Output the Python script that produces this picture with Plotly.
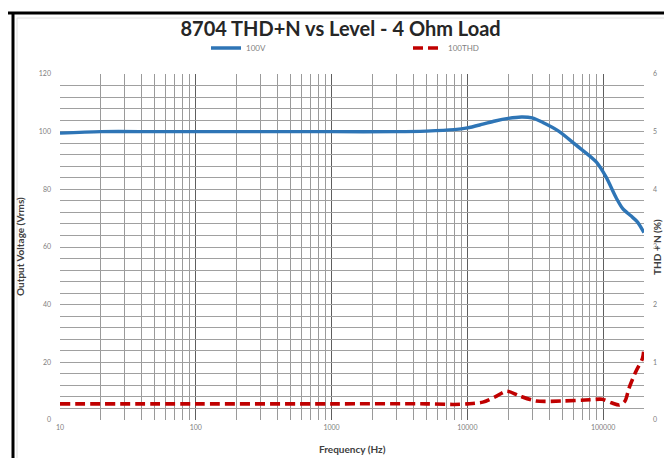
import plotly.graph_objects as go

# Output voltage (100V series), left axis
freq_v = [10, 20, 50, 100, 500, 1000, 3000, 5000, 8000, 10000, 13000, 16000, 20000, 25000,
          30000, 36000, 47000, 63000, 89000, 105000, 125000, 140000, 160000, 178000, 200000]
volts = [99.5, 100, 100, 100, 100, 100, 100, 100.2, 100.7, 101.3, 102.6, 103.7, 104.6, 105.1,
         104.8, 103.2, 100.2, 95.4, 89.5, 84.3, 77, 73.2, 70.8, 68.8, 65]

# THD+N (100THD series), right axis
freq_t = [10, 100, 1000, 5000, 8000, 10000, 13000, 16000, 19500, 24000, 32000, 50000,
          80000, 98000, 115000, 132000, 145000, 155000, 175000, 195000, 200000]
thd = [0.28, 0.28, 0.28, 0.28, 0.27, 0.28, 0.31, 0.40, 0.50, 0.42, 0.33, 0.33,
       0.35, 0.36, 0.30, 0.26, 0.33, 0.55, 0.85, 1.07, 1.25]

left_grid = list(range(0, 121, 4))
left_labels = [str(v) if v % 20 == 0 else " " for v in left_grid]
right_ticks = [0, 1, 2, 3, 4, 5, 6]
x_ticks = [10, 100, 1000, 10000, 100000]

fig = go.Figure()
fig.add_trace(go.Scatter(x=freq_v, y=volts, name="100V", mode="lines",
                         line=dict(color="#2e75b6", width=3.4, shape="spline", smoothing=0.8)))
fig.add_trace(go.Scatter(x=freq_t, y=thd, name="100THD", mode="lines", yaxis="y2",
                         line=dict(color="#c00000", width=3.6, dash="10px,5px",
                                   shape="spline", smoothing=0.8)))

W, H = 672, 458
L, R, T, B = 52, 636, 66, 412
pw, ph = R - L, B - T

def px(x):
    return (x - L) / pw

def py(y):
    return (B - y) / ph

FONT = "Lato, Open Sans, sans-serif"
tickfont = dict(family=FONT, size=7, color="#808080")
titlefont = dict(family=FONT, size=10, color="#404040")

fig.update_layout(
    width=W, height=H,
    margin=dict(l=L, r=W - R, t=T, b=H - B, autoexpand=False),
    paper_bgcolor="white", plot_bgcolor="white",
    title=dict(text="<b>8704 THD+N vs Level - 4 Ohm Load</b>", x=px(341), xanchor="center",
               y=1 - 21 / H, yanchor="middle",
               font=dict(family=FONT, size=20, color="#262626")),
    legend=dict(orientation="h", x=px(198), xanchor="left", y=py(40), yanchor="middle",
                font=dict(family=FONT, size=8, color="#808080"),
                entrywidth=157, entrywidthmode="pixels", bgcolor="rgba(0,0,0,0)"),
    xaxis=dict(type="log", range=[1, 5.30103], tickvals=x_ticks,
               ticktext=[str(v) for v in x_ticks], tickfont=tickfont,
               showgrid=True, gridcolor="#5e5e5e", gridwidth=1,
               minor=dict(showgrid=True, gridcolor="#9a9a9a", gridwidth=1, dtick="D1", ticks=""),
               showline=False, zeroline=False, ticks="", ticklabelstandoff=2, automargin=False),
    yaxis=dict(range=[0, 120], tickmode="array", tickvals=left_grid, ticktext=left_labels,
               tickfont=tickfont, showgrid=True, gridcolor="#a0a0a0", gridwidth=1,
               zeroline=False, showline=False, ticks="", ticklabelstandoff=8, automargin=False),
    yaxis2=dict(range=[0, 6], tickvals=right_ticks, tickfont=tickfont,
                overlaying="y", side="right", showgrid=False,
                zeroline=False, showline=False, ticks="", ticklabelstandoff=8, automargin=False),
    annotations=[
        dict(text="<b>Frequency (Hz)</b>", xref="paper", yref="paper", x=0.5, y=py(441),
             xanchor="center", yanchor="middle", showarrow=False, font=titlefont),
        dict(text="<b>Output Voltage (Vrms)</b>", xref="paper", yref="paper", x=px(12), y=0.5,
             xanchor="center", yanchor="middle", showarrow=False, textangle=-90, font=titlefont),
        dict(text="<b>THD + N (%)</b>", xref="paper", yref="paper", x=px(649), y=0.5,
             xanchor="center", yanchor="middle", showarrow=False, textangle=-90, font=titlefont),
    ],
    shapes=[
        dict(type="line", xref="paper", yref="paper", x0=px(0), x1=px(W), y0=py(5), y1=py(5),
             line=dict(color="black", width=3)),
        dict(type="line", xref="paper", yref="paper", x0=px(5), x1=px(5), y0=py(4), y1=py(H),
             line=dict(color="black", width=3)),
        dict(type="rect", xref="paper", yref="paper", x0=px(9), x1=px(665), y0=py(10), y1=py(452),
             line=dict(color="#e0e0e0", width=1)),
    ],
)

fig.write_html("out.html")
